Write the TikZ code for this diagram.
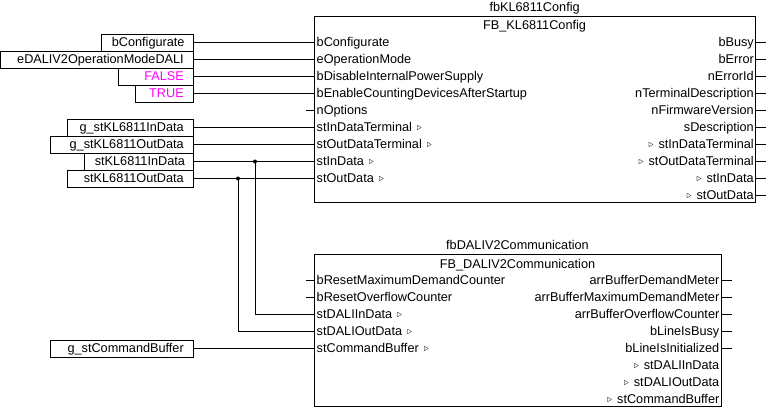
\documentclass[tikz,border=0pt]{standalone}
\usepackage{fontspec}
\setmainfont{Liberation Sans}
\usetikzlibrary{positioning}

\definecolor{constmag}{RGB}{255,0,255}
\newcommand{\tri}{\raisebox{0.6pt}{\normalsize$\triangleright$}}

\tikzset{
  fbtxt/.style={font=\fontsize{12.7}{14}\selectfont, inner sep=0pt, text height=10pt, text depth=2pt},
  fbblock/.style={draw, line width=1pt, inner sep=0pt, anchor=north west},
  varbox/.style={draw, line width=1pt, anchor=east, fbtxt, inner xsep=10pt, minimum height=17pt, text width=#1, align=right},
  pinin/.style={fbtxt, anchor=west},
  pinout/.style={fbtxt, anchor=east},
  wire/.style={line width=1pt},
}

\begin{document}
\begin{tikzpicture}[x=1pt, y=-1pt]
        % Cadre de l'image
        \useasboundingbox (0,0) rectangle (766,407);
        \def\rowh{17}
        % Bloc 1 : fbKL6811Config
        \node[fbblock, minimum width=440.7pt, minimum height=186pt] (cfg) at (314.3,16) {};
        \node[fbtxt] (cfgName) at (534.6,7) {fbKL6811Config};
        \node[fbtxt] (cfgType) at (534.6,25.4) {FB\_KL6811Config};
        % Entrées du bloc 1
        \node[pinin] (iConf) at (316.5,42.5) {bConfigurate};
        \node[pinin] (iMode) at (316.5,42.5+\rowh) {eOperationMode};
        \node[pinin] (iPower) at (316.5,42.5+2*\rowh) {bDisableInternalPowerSupply};
        \node[pinin] (iCount) at (316.5,42.5+3*\rowh) {bEnableCountingDevicesAfterStartup};
        \node[pinin] (iOpt) at (316.5,42.5+4*\rowh) {nOptions};
        \node[pinin] (iInTerm) at (316.5,42.5+5*\rowh) {stInDataTerminal\hspace{5pt}\tri};
        \node[pinin] (iOutTerm) at (316.5,42.5+6*\rowh) {stOutDataTerminal\hspace{5pt}\tri};
        \node[pinin] (iIn) at (316.5,42.5+7*\rowh) {stInData\hspace{5pt}\tri};
        \node[pinin] (iOut) at (316.5,42.5+8*\rowh) {stOutData\hspace{5pt}\tri};
        % Sorties du bloc 1
        \node[pinout] (oBusy) at (754,42.5) {bBusy};
        \node[pinout] (oError) at (754,42.5+\rowh) {bError};
        \node[pinout] (oErrId) at (754,42.5+2*\rowh) {nErrorId};
        \node[pinout] (oDescr) at (754,42.5+3*\rowh) {nTerminalDescription};
        \node[pinout] (oFirm) at (754,42.5+4*\rowh) {nFirmwareVersion};
        \node[pinout] (oSDescr) at (754,42.5+5*\rowh) {sDescription};
        \node[pinout] (oInTerm) at (754,42.5+6*\rowh) {\tri\hspace{5pt}stInDataTerminal};
        \node[pinout] (oOutTerm) at (754,42.5+7*\rowh) {\tri\hspace{5pt}stOutDataTerminal};
        \node[pinout] (oIn) at (754,42.5+8*\rowh) {\tri\hspace{5pt}stInData};
        \node[pinout] (oOut) at (754,42.5+9*\rowh) {\tri\hspace{5pt}stOutData};
        % Bloc 2 : fbDALIV2Communication
        \node[fbblock, minimum width=406.4pt, minimum height=151.7pt] (com) at (314.3,254) {};
        \node[fbtxt] (comName) at (517.5,245.6) {fbDALIV2Communication};
        \node[fbtxt] (comType) at (517.5,264) {FB\_DALIV2Communication};
        % Entrées du bloc 2
        \node[pinin] (iResMax) at (316.5,280.5) {bResetMaximumDemandCounter};
        \node[pinin] (iResOvf) at (316.5,280.5+\rowh) {bResetOverflowCounter};
        \node[pinin] (iDIn) at (316.5,280.5+2*\rowh) {stDALIInData\hspace{5pt}\tri};
        \node[pinin] (iDOut) at (316.5,280.5+3*\rowh) {stDALIOutData\hspace{5pt}\tri};
        \node[pinin] (iCmd) at (316.5,280.5+4*\rowh) {stCommandBuffer\hspace{5pt}\tri};
        % Sorties du bloc 2
        \node[pinout] (oDem) at (719.5,280.5) {arrBufferDemandMeter};
        \node[pinout] (oMaxDem) at (719.5,280.5+\rowh) {arrBufferMaximumDemandMeter};
        \node[pinout] (oOvf) at (719.5,280.5+2*\rowh) {arrBufferOverflowCounter};
        \node[pinout] (oLBusy) at (719.5,280.5+3*\rowh) {bLineIsBusy};
        \node[pinout] (oLInit) at (719.5,280.5+4*\rowh) {bLineIsInitialized};
        \node[pinout] (oDIn) at (719.5,280.5+5*\rowh) {\tri\hspace{5pt}stDALIInData};
        \node[pinout] (oDOut) at (719.5,280.5+6*\rowh) {\tri\hspace{5pt}stDALIOutData};
        \node[pinout] (oCmd) at (719.5,280.5+7*\rowh) {\tri\hspace{5pt}stCommandBuffer};
        % Variables et constantes
        \node[varbox=72pt] (vConf) at (194.3,42.5) {bConfigurate};
        \node[varbox=173.8pt] (vMode) at (194.3,42.5+\rowh) {eDALIV2OperationModeDALI};
        \node[varbox=55pt, text=constmag] (vFalse) at (194.3,42.5+2*\rowh) {FALSE};
        \node[varbox=38pt, text=constmag] (vTrue) at (194.3,42.5+3*\rowh) {TRUE};
        \node[varbox=106pt] (vInTerm) at (194.3,42.5+5*\rowh) {g\_stKL6811InData};
        \node[varbox=123pt] (vOutTerm) at (194.3,42.5+6*\rowh) {g\_stKL6811OutData};
        \node[varbox=89pt] (vIn) at (194.3,42.5+7*\rowh) {stKL6811InData};
        \node[varbox=106pt] (vOut) at (194.3,42.5+8*\rowh) {stKL6811OutData};
        \node[varbox=123pt] (vCmd) at (194.3,280.5+4*\rowh) {g\_stCommandBuffer};
        % Extrémités libres des broches
        \coordinate (stubL) at (306,0);
        \coordinate (cfgStubR) at (765.7,0);
        \coordinate (comStubR) at (731.7,0);
        % Liaisons
        \foreach \v/\p in {vConf/iConf, vMode/iMode, vFalse/iPower, vTrue/iCount, vInTerm/iInTerm, vOutTerm/iOutTerm, vIn/iIn, vOut/iOut}
          \draw[wire] (\v.east) -- (\v.east -| cfg.west);
        \draw[wire] (vCmd.east) -- (vCmd.east -| com.west);
        \foreach \p in {iOpt, iResMax, iResOvf}
          \draw[wire] (\p.west -| stubL) -- (\p.west -| cfg.west);
        \foreach \p in {oBusy, oError, oErrId, oDescr, oFirm, oSDescr, oInTerm, oOutTerm, oIn, oOut}
          \draw[wire] (\p.east -| cfg.east) -- (\p.east -| cfgStubR);
        \foreach \p in {oDem, oMaxDem, oOvf, oLBusy, oLInit}
          \draw[wire] (\p.east -| com.east) -- (\p.east -| comStubR);
        % Dérivations vers le bloc 2
        \coordinate (jIn) at (255,42.5+7*\rowh);
        \coordinate (jOut) at (238,42.5+8*\rowh);
        \draw[wire] (jIn) |- (iDIn.west -| com.west);
        \draw[wire] (jOut) |- (iDOut.west -| com.west);
        \fill (jIn) circle (2);
        \fill (jOut) circle (2);
\end{tikzpicture}
\end{document}
